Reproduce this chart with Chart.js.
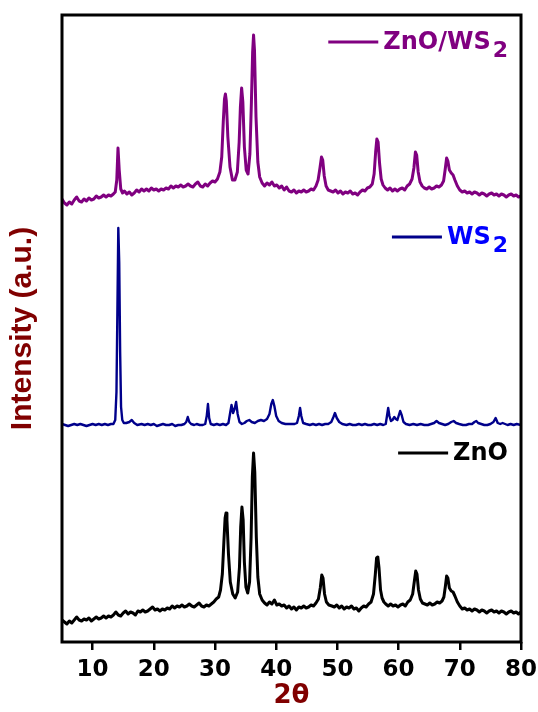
<!DOCTYPE html>
<html>
<head>
<meta charset="utf-8">
<script src="https://cdn.jsdelivr.net/npm/chart.js@4.4.1/dist/chart.umd.min.js"></script>
<style>
  html, body { margin: 0; padding: 0; background: #fff; }
  #wrap { width: 538px; height: 712px; }
</style>
</head>
<body>
<div id="wrap"><canvas id="xrdChart"></canvas></div>
<script>
const seriesNames = ["ZnO", "WS2", "ZnO/WS2"];
const xTicks = [10, 20, 30, 40, 50, 60, 70, 80];

// [2theta, intensity (a.u., stacked offset included)]
const znoPoints = [
  [5.0,22],[5.4,20],[5.8,18],[6.2,21],[6.6,19],[7.0,22],[7.4,25],[7.8,22],[8.2,21],[8.6,23],
  [9.0,22],[9.4,24],[9.8,21],[10.2,23],[10.6,25],[11.0,23],[11.4,24],[11.8,26],[12.2,24],[12.6,26],
  [13.0,25],[13.4,27],[13.8,30],[14.2,27],[14.6,26],[15.0,29],[15.4,31],[15.8,28],[16.2,30],[16.6,29],
  [17.0,27],[17.4,31],[17.8,30],[18.2,32],[18.6,30],[19.0,31],[19.4,33],[19.8,35],[20.2,32],[20.6,33],
  [21.0,31],[21.4,33],[21.8,32],[22.2,34],[22.6,33],[23.0,36],[23.4,34],[23.8,36],[24.2,35],[24.6,37],
  [25.0,35],[25.4,36],[25.8,38],[26.2,36],[26.6,35],[27.0,37],[27.4,39],[27.8,36],[28.2,35],[28.6,37],
  [29.0,36],[29.4,38],[29.8,40],[30.2,43],[30.6,45],[30.9,52],[31.2,68],[31.45,100],[31.65,124],[31.8,129],
  [31.95,122],[32.2,88],[32.5,60],[32.9,48],[33.3,44],[33.7,50],[34.0,75],[34.2,115],[34.4,135],[34.6,122],
  [34.8,80],[35.05,55],[35.35,49],[35.65,60],[35.9,105],[36.1,165],[36.3,189],[36.5,170],[36.75,105],[37.0,65],
  [37.3,48],[37.7,42],[38.1,39],[38.5,37],[38.9,40],[39.3,38],[39.7,42],[40.1,37],[40.5,38],[40.9,36],
  [41.3,37],[41.7,34],[42.1,36],[42.5,33],[42.9,35],[43.3,32],[43.7,35],[44.1,34],[44.5,36],[44.9,34],
  [45.3,35],[45.7,37],[46.1,36],[46.5,39],[46.9,43],[47.2,54],[47.45,67],[47.65,64],[47.9,48],[48.2,40],
  [48.6,37],[49.1,36],[49.5,35],[49.9,37],[50.3,34],[50.7,36],[51.1,33],[51.5,35],[51.9,34],[52.3,36],
  [52.7,33],[53.1,34],[53.5,31],[53.9,34],[54.3,36],[54.7,35],[55.1,38],[55.5,40],[55.9,48],[56.2,68],
  [56.4,84],[56.6,85],[56.8,74],[57.05,52],[57.3,44],[57.6,40],[57.9,38],[58.3,36],[58.7,38],[59.1,36],
  [59.5,37],[59.9,35],[60.3,37],[60.7,38],[61.1,36],[61.5,40],[61.9,42],[62.3,48],[62.6,62],[62.8,71],
  [63.0,68],[63.25,52],[63.55,43],[63.9,39],[64.3,38],[64.7,37],[65.1,39],[65.5,37],[65.9,38],[66.3,40],
  [66.7,39],[67.1,41],[67.4,45],[67.65,56],[67.85,66],[68.05,64],[68.3,54],[68.6,51],[68.9,50],[69.2,46],
  [69.6,40],[70.0,36],[70.4,33],[70.8,34],[71.2,32],[71.6,33],[72.0,31],[72.4,33],[72.8,32],[73.2,30],
  [73.6,32],[74.0,31],[74.4,29],[74.8,31],[75.2,32],[75.6,30],[76.0,31],[76.4,29],[76.8,31],[77.2,30],
  [77.6,28],[78.0,30],[78.4,31],[78.8,29],[79.2,30],[79.6,28],[80.0,30]
];

const ws2Points = [
  [5.0,218],[5.5,217],[6.0,216],[6.5,217],[7.0,218],[7.5,217],[8.0,218],[8.5,217],[9.0,216],[9.5,217],
  [10.0,218],[10.5,217],[11.0,218],[11.5,217],[12.0,218],[12.5,217],[13.0,218],[13.4,218],[13.7,222],[13.9,250],
  [14.05,330],[14.2,414],[14.35,380],[14.5,290],[14.65,235],[14.85,222],[15.1,219],[15.5,219],[16.0,220],[16.4,222],
  [16.8,219],[17.3,217],[18.0,218],[18.5,217],[19.0,218],[19.5,217],[20.0,218],[20.5,216],[21.0,217],[21.5,218],
  [22.0,217],[22.5,217],[23.0,218],[23.5,216],[24.0,217],[24.5,217],[25.0,218],[25.3,220],[25.55,225],[25.8,220],
  [26.1,218],[26.6,217],[27.0,218],[27.5,217],[28.0,217],[28.4,218],[28.65,226],[28.85,238],[29.05,224],[29.3,218],
  [29.8,217],[30.3,218],[30.8,217],[31.3,218],[31.8,217],[32.2,219],[32.5,230],[32.7,237],[32.95,229],[33.2,233],
  [33.45,240],[33.7,228],[34.0,220],[34.4,218],[34.8,219],[35.2,221],[35.6,222],[36.0,220],[36.5,219],[37.0,221],
  [37.5,222],[38.0,221],[38.5,223],[38.9,228],[39.2,238],[39.45,242],[39.7,236],[40.0,226],[40.4,221],[40.9,219],
  [41.5,218],[42.0,218],[42.5,218],[43.0,218],[43.4,219],[43.7,226],[43.9,234],[44.1,226],[44.4,219],[44.9,218],
  [45.5,217],[46.0,218],[46.5,217],[47.0,218],[47.5,217],[48.0,218],[48.5,218],[49.0,220],[49.35,225],[49.6,229],
  [49.9,224],[50.3,220],[50.8,218],[51.5,217],[52.0,218],[52.5,217],[53.0,217],[53.5,218],[54.0,217],[54.5,218],
  [55.0,217],[55.5,217],[56.0,218],[56.5,217],[57.0,218],[57.5,217],[57.9,218],[58.1,226],[58.3,234],[58.5,226],
  [58.75,221],[59.0,222],[59.3,225],[59.55,223],[59.8,222],[60.0,226],[60.25,231],[60.5,227],[60.8,220],[61.2,218],
  [61.8,217],[62.4,218],[63.0,217],[63.6,218],[64.2,217],[64.8,217],[65.3,218],[65.8,219],[66.2,221],[66.6,219],
  [67.1,218],[67.6,217],[68.1,218],[68.6,220],[69.0,221],[69.4,219],[69.9,218],[70.5,217],[71.0,217],[71.5,218],
  [72.0,218],[72.4,220],[72.7,221],[73.0,219],[73.5,218],[74.0,217],[74.5,217],[75.0,218],[75.5,220],[75.85,224],
  [76.2,219],[76.6,218],[77.0,219],[77.4,218],[77.8,217],[78.3,218],[78.8,217],[79.3,218],[80.0,217]
];

const compositePoints = [
  [5.0,443],[5.4,439],[5.8,437],[6.2,440],[6.6,438],[7.0,442],[7.4,445],[7.8,441],[8.2,440],[8.6,443],
  [9.0,441],[9.4,444],[9.8,442],[10.2,443],[10.6,446],[11.0,444],[11.4,445],[11.8,447],[12.2,445],[12.6,447],
  [13.0,446],[13.4,448],[13.7,450],[13.95,462],[14.15,494],[14.35,472],[14.6,453],[14.9,449],[15.2,451],[15.6,448],
  [16.0,450],[16.4,447],[16.8,449],[17.2,452],[17.6,450],[18.0,453],[18.4,451],[18.8,453],[19.2,451],[19.6,454],
  [20.0,452],[20.4,453],[20.8,451],[21.2,453],[21.6,452],[22.0,454],[22.4,453],[22.8,456],[23.2,454],[23.6,456],
  [24.0,455],[24.4,457],[24.8,455],[25.2,456],[25.6,458],[26.0,456],[26.4,455],[26.8,458],[27.2,460],[27.6,456],
  [28.0,455],[28.4,458],[28.8,456],[29.2,459],[29.6,461],[30.0,460],[30.4,463],[30.8,470],[31.1,485],[31.35,520],
  [31.55,543],[31.7,548],[31.85,541],[32.1,505],[32.45,475],[32.85,462],[33.25,462],[33.65,470],[33.95,500],[34.15,535],
  [34.35,554],[34.55,540],[34.8,495],[35.1,472],[35.4,468],[35.7,488],[35.95,540],[36.15,590],[36.3,607],[36.45,592],
  [36.7,525],[37.0,480],[37.3,465],[37.7,459],[38.1,456],[38.5,459],[38.9,457],[39.3,460],[39.7,456],[40.1,457],
  [40.5,454],[40.9,456],[41.3,452],[41.7,455],[42.1,451],[42.5,450],[42.9,452],[43.3,449],[43.7,451],[44.1,450],
  [44.5,452],[44.9,450],[45.3,451],[45.7,453],[46.1,452],[46.5,456],[46.85,462],[47.15,474],[47.4,485],[47.6,482],
  [47.85,466],[48.15,456],[48.5,452],[48.9,451],[49.3,450],[49.7,452],[50.1,449],[50.5,451],[50.9,448],[51.3,450],
  [51.7,449],[52.1,451],[52.5,448],[52.9,449],[53.3,447],[53.7,450],[54.1,452],[54.5,451],[54.9,454],[55.3,455],
  [55.7,458],[56.0,468],[56.25,490],[56.45,503],[56.65,500],[56.9,478],[57.15,463],[57.45,457],[57.8,454],[58.2,452],
  [58.6,454],[59.0,451],[59.4,453],[59.8,451],[60.2,453],[60.6,454],[61.0,452],[61.4,456],[61.8,458],[62.2,463],
  [62.5,474],[62.75,490],[62.95,487],[63.2,470],[63.5,460],[63.85,456],[64.2,454],[64.6,453],[65.0,455],[65.4,453],
  [65.8,454],[66.2,456],[66.6,455],[67.0,457],[67.35,461],[67.6,472],[67.85,484],[68.05,481],[68.3,472],[68.6,469],
  [68.9,467],[69.2,462],[69.6,456],[70.0,452],[70.4,450],[70.8,451],[71.2,449],[71.6,450],[72.0,448],[72.4,450],
  [72.8,449],[73.2,447],[73.6,449],[74.0,448],[74.4,446],[74.8,448],[75.2,449],[75.6,447],[76.0,448],[76.4,446],
  [76.8,448],[77.2,447],[77.6,445],[78.0,447],[78.4,448],[78.8,446],[79.2,447],[79.6,445],[80.0,446]
];

const lineColors = ["#000000", "#00008b", "#800080"];
const labelColors = ["#000000", "#0000ff", "#800080"];

function toXY(points) {
  return points.map(function (p) {
    return { x: p[0], y: p[1] };
  });
}

// box around the plot area
const framePlugin = {
  id: "frame",
  afterDatasetsDraw(chart) {
    const { ctx, chartArea } = chart;
    ctx.save();
    ctx.strokeStyle = "#000";
    ctx.lineWidth = 3;
    ctx.strokeRect(chartArea.left, chartArea.top, chartArea.right - chartArea.left, chartArea.bottom - chartArea.top);
    ctx.restore();
  },
};

// in-plot labels: short line + name, trailing digit drawn as subscript
const seriesLabels = {
  id: "seriesLabels",
  afterDraw(chart, args, opts) {
    const ctx = chart.ctx;
    ctx.save();
    chart.data.datasets.forEach(function (ds, i) {
      const spot = opts.spots[i];
      const m = ds.label.match(/^(.*?)(\d)$/);
      const main = m ? m[1] : ds.label;
      const sub = m ? m[2] : "";
      ctx.font = "bold 24px 'DejaVu Sans'";
      const mainW = ctx.measureText(main).width;
      ctx.font = "bold 22px 'DejaVu Sans'";
      const subW = sub ? ctx.measureText(sub).width + 2 : 0;
      const textX = opts.right - mainW - subW;
      ctx.fillStyle = labelColors[i];
      ctx.textBaseline = "alphabetic";
      ctx.textAlign = "left";
      ctx.font = "bold 24px 'DejaVu Sans'";
      ctx.fillText(main, textX, spot.y + 7);
      if (sub) {
        ctx.font = "bold 22px 'DejaVu Sans'";
        ctx.fillText(sub, textX + mainW + 2, spot.y + 15);
      }
      ctx.strokeStyle = ds.borderColor;
      ctx.lineWidth = 3;
      ctx.beginPath();
      ctx.moveTo(textX - 5 - opts.lineLength, spot.y);
      ctx.lineTo(textX - 5, spot.y);
      ctx.stroke();
    });
    ctx.restore();
  },
};

const data = {
  datasets: [
    { label: seriesNames[0], data: toXY(znoPoints), borderColor: lineColors[0], borderWidth: 3 },
    { label: seriesNames[1], data: toXY(ws2Points), borderColor: lineColors[1], borderWidth: 2.4 },
    { label: seriesNames[2], data: toXY(compositePoints), borderColor: lineColors[2], borderWidth: 3 },
  ],
};

const config = {
  type: "line",
  data,
  options: {
    responsive: true,
    maintainAspectRatio: false,
    animation: false,
    elements: { point: { radius: 0 }, line: { tension: 0, borderJoinStyle: "round" } },
    layout: { padding: { top: 15, right: 17, left: 0, bottom: 0 } },
    plugins: {
      legend: { display: false },
      tooltip: { enabled: false },
      seriesLabels: {
        right: 508,
        lineLength: 50,
        spots: [{ y: 453 }, { y: 237 }, { y: 42 }],
      },
    },
    scales: {
      x: {
        type: "linear",
        min: 5,
        max: 80,
        afterBuildTicks: function (scale) {
          scale.ticks = xTicks.map(function (v) {
            return { value: v };
          });
        },
        afterFit: function (scale) {
          scale.height = 70;
          // let the last tick label hang into the right margin
          scale.paddingLeft = 0;
          scale.paddingRight = 0;
        },
        grid: {
          display: true,
          drawOnChartArea: false,
          drawTicks: true,
          tickLength: 8,
          lineWidth: 2.5,
          color: "#000",
        },
        border: { display: false },
        ticks: {
          color: "#000",
          padding: 6,
          maxRotation: 0,
          font: { family: "'DejaVu Sans'", weight: "bold", size: 23 },
        },
        title: {
          display: true,
          text: "2θ",
          color: "#800000",
          padding: 0,
          font: { family: "'DejaVu Sans'", weight: "bold", size: 26 },
        },
      },
      y: {
        min: 0,
        max: 627,
        afterFit: function (scale) {
          scale.width = 62;
        },
        grid: { display: false },
        border: { display: false },
        ticks: { display: false },
        title: {
          display: true,
          text: "Intensity (a.u.)",
          color: "#800000",
          padding: { top: 7.5, bottom: 0 },
          font: { family: "'Liberation Sans'", weight: "bold", size: 30, lineHeight: 1 },
        },
      },
    },
  },
  plugins: [framePlugin, seriesLabels],
};

const xrdChart = new Chart(document.getElementById("xrdChart"), config);
</script>
</body>
</html>
